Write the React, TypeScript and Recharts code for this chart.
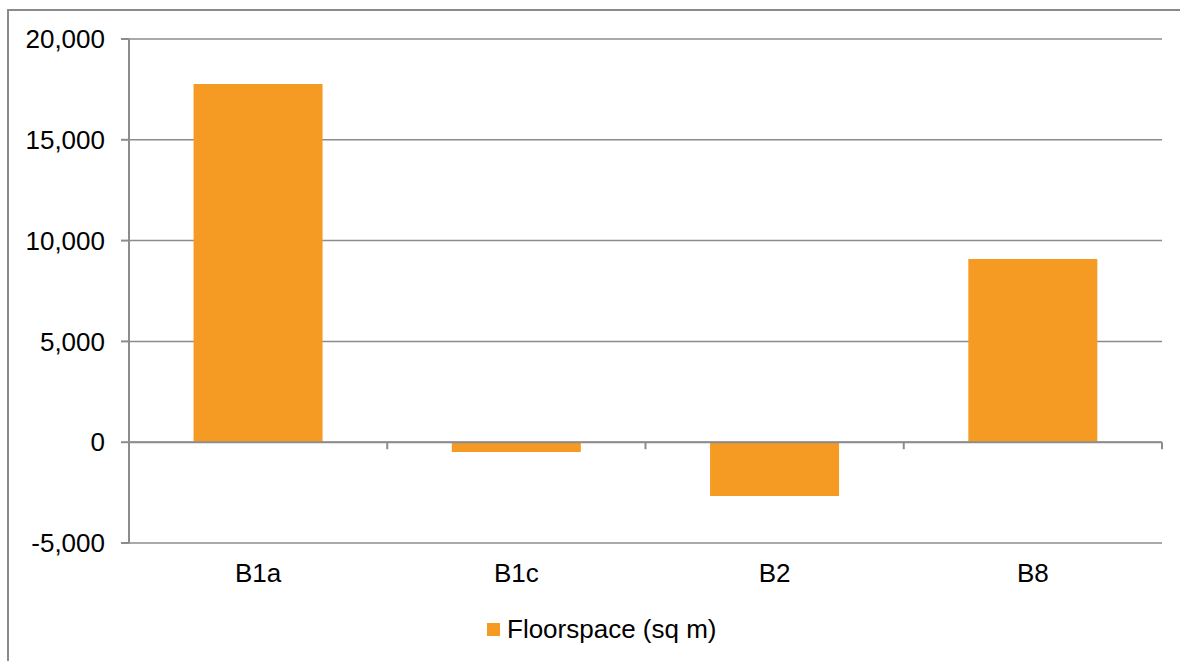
import React from "react";
import { BarChart, Bar, XAxis, YAxis, CartesianGrid, Legend, ReferenceLine } from "recharts";

const categories = ["B1a", "B1c", "B2", "B8"];
const floorspace = [17770, -480, -2670, 9090];
const yTicks = [-5000, 0, 5000, 10000, 15000, 20000];
const seriesName = "Floorspace (sq m)";

const data = categories.map((c, i) => ({ name: c, value: floorspace[i] }));

const FONT = '"Liberation Sans", Arial, Helvetica, sans-serif';
const GRID = "#8c8c8c";
const ORANGE = "#F59A23";

const ZeroLine = (props: any) => {
  const { x1, y1, x2 } = props;
  const n = categories.length;
  const step = (x2 - x1) / n;
  const ticks = [];
  for (let i = 1; i <= n; i++) {
    const x = x1 + step * i;
    ticks.push(<line key={i} x1={x} y1={y1} x2={x} y2={y1 + 7} stroke={GRID} strokeWidth={2} />);
  }
  return (
    <g>
      <line x1={x1} y1={y1} x2={x2} y2={y1} stroke={GRID} strokeWidth={2} />
      {ticks}
    </g>
  );
};

const LegendContent = () => (
  <div style={{ display: "flex", alignItems: "center", height: 40, paddingLeft: 487, fontFamily: FONT, fontSize: 26, color: "#000" }}>
    <span style={{ display: "inline-block", width: 13, height: 13, background: ORANGE, marginRight: 7 }} />
    <span>{seriesName}</span>
  </div>
);

export default function App() {
  return (
    <div style={{ position: "absolute", left: 0, top: 0, width: 1180, height: 661, overflow: "hidden", background: "#fff" }}>
      <div style={{ position: "absolute", left: 7, top: 9, width: 1200, height: 700, border: "2px solid #8a8a8a", boxSizing: "border-box" }} />
      <div style={{ position: "absolute", left: 0, top: 0 }}>
        <BarChart width={1180} height={661} data={data} margin={{ top: 39, right: 18, left: 0, bottom: 12 }} barCategoryGap="25%">
          <CartesianGrid vertical={false} stroke={GRID} strokeWidth={1.5} />
          <XAxis
            dataKey="name"
            axisLine={false}
            tickLine={false}
            tickSize={6}
            tickMargin={15}
            height={66}
            tick={{ fill: "#000", fontSize: 26, fontFamily: FONT }}
          />
          <YAxis
            domain={[-5000, 20000]}
            ticks={yTicks}
            width={129}
            interval={0}
            axisLine={{ stroke: GRID, strokeWidth: 2 }}
            tickLine={{ stroke: GRID, strokeWidth: 2 }}
            tickSize={8}
            tickMargin={16}
            tickFormatter={(v: number) => v.toLocaleString("en-US")}
            tick={{ fill: "#000", fontSize: 26, fontFamily: FONT }}
          />
          <ReferenceLine y={0} shape={ZeroLine} ifOverflow="extendDomain" />
          <Bar dataKey="value" name={seriesName} fill={ORANGE} isAnimationActive={false} />
          <Legend
            verticalAlign="bottom"
            content={LegendContent}
            wrapperStyle={{ left: 0, width: 1180 }}
          />
        </BarChart>
      </div>
    </div>
  );
}
